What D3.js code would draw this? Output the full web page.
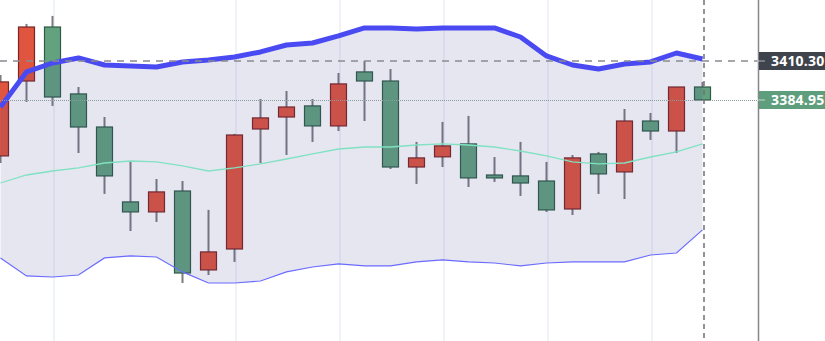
<!DOCTYPE html>
<html>
<head>
<meta charset="utf-8">
<script src="https://cdn.jsdelivr.net/npm/d3@7"></script>
<style>
  body { margin: 0; background: #fff; }
  svg { display: block; }
</style>
</head>
<body>
<div id="chart"></div>
<script>
// candles, oldest first: [open, high, low, close]
let opens  = [3348.6, 3397.3, 3432.4, 3388.9, 3367.4, 3318.7, 3312.2, 3325.8, 3274.5, 3288.1,
              3366.1, 3373.9, 3381.1, 3368.1, 3403.2, 3397.3, 3341.4, 3348.0, 3356.4, 3336.2,
              3335.6, 3332.3, 3314.1, 3349.9, 3338.2, 3371.3, 3364.8, 3393.4];
let highs  = [3401.2, 3434.4, 3439.6, 3393.4, 3373.9, 3344.7, 3333.6, 3332.3, 3313.5, 3362.9,
              3385.6, 3390.8, 3385.6, 3402.5, 3410.3, 3405.1, 3357.7, 3370.7, 3374.6, 3347.9,
              3357.7, 3344.7, 3349.2, 3351.2, 3379.1, 3376.5, 3393.4, 3396.7];
let lows   = [3344.0, 3383.7, 3381.1, 3350.5, 3323.9, 3299.8, 3305.7, 3266.0, 3271.2, 3279.7,
              3344.0, 3349.2, 3357.7, 3364.8, 3371.3, 3340.1, 3330.4, 3341.4, 3328.4, 3331.7,
              3322.6, 3312.2, 3310.2, 3323.9, 3320.6, 3359.0, 3350.5, 3384.95];
let closes = [3396.7, 3432.4, 3386.9, 3367.4, 3335.6, 3312.2, 3325.2, 3272.5, 3286.2, 3362.2,
              3373.3, 3380.4, 3368.1, 3395.4, 3397.3, 3341.4, 3347.3, 3355.1, 3334.3, 3334.3,
              3331.0, 3313.5, 3347.3, 3336.9, 3371.3, 3364.8, 3393.4, 3384.95];

// bollinger bands
let upperBand = [3380.4, 3403.2, 3409.0, 3412.3, 3407.7, 3407.1, 3406.4, 3409.7, 3411.0, 3412.9,
                 3416.2, 3420.7, 3422.0, 3426.6, 3431.8, 3431.8, 3431.1, 3431.8, 3431.8, 3431.8,
                 3425.9, 3413.6, 3407.7, 3405.1, 3408.4, 3409.7, 3415.5, 3411.6];
let middleBand = [3331.0, 3336.2, 3338.8, 3340.8, 3344.0, 3345.3, 3344.7, 3342.1, 3338.8, 3340.8,
                  3343.4, 3346.6, 3349.9, 3353.1, 3354.4, 3354.4, 3355.7, 3356.4, 3355.7, 3354.4,
                  3351.8, 3348.6, 3344.7, 3343.4, 3344.0, 3347.9, 3351.2, 3356.4];
let lowerBand = [3282.3, 3270.6, 3269.9, 3271.2, 3282.3, 3283.6, 3282.9, 3273.2, 3266.0, 3266.0,
                 3267.3, 3273.2, 3276.4, 3278.4, 3277.1, 3277.1, 3279.7, 3281.0, 3279.7, 3279.0,
                 3277.1, 3279.0, 3279.7, 3279.7, 3279.7, 3284.2, 3285.5, 3300.5];

// time grid ticks (candle index) and marked prices
let gridTicks = [2, 9, 13, 17, 21, 25];
let crossPrice = 3410.30;
let lastPrice = 3384.95;

let width = 825, height = 341;
let plotRight = 758;

let svg = d3.select("#chart").append("svg")
    .attr("width", width)
    .attr("height", height);

let x = d3.scaleLinear()
    .domain([0, 27])
    .range([0.5, 702.5]);

let y = d3.scaleLinear()
    .domain([3228.30, 3449.95])
    .range([height, 0]);

let idx = d3.range(opens.length);

// vertical grid
svg.append("g").selectAll("line")
    .data(gridTicks)
    .enter().append("line")
        .attr("x1", (d) => x(d) + 1.5)
        .attr("x2", (d) => x(d) + 1.5)
        .attr("y1", 0)
        .attr("y2", height)
        .attr("stroke", "#dfe8f1")
        .attr("stroke-width", 1);

// candles
let candles = svg.append("g");

candles.selectAll("line")
    .data(idx)
    .enter().append("line")
        .attr("x1", (i) => x(i))
        .attr("x2", (i) => x(i))
        .attr("y1", (i) => y(highs[i]))
        .attr("y2", (i) => y(lows[i]))
        .attr("stroke", "#7b7b80")
        .attr("stroke-width", 2);

candles.selectAll("rect")
    .data(idx)
    .enter().append("rect")
        .attr("x", (i) => x(i) - 8)
        .attr("width", 16)
        .attr("y", (i) => y(Math.max(opens[i], closes[i])))
        .attr("height", (i) => Math.max(2, Math.abs(y(opens[i]) - y(closes[i]))))
        .attr("fill", (i) => closes[i] >= opens[i] ? "#e0553f" : "#63a27f")
        .attr("stroke", (i) => closes[i] >= opens[i] ? "#7a2626" : "#2f5a45")
        .attr("stroke-width", 1.2);

// band fill drawn over the candles
let area = d3.area()
    .x((i) => x(i))
    .y0((i) => y(lowerBand[i]))
    .y1((i) => y(upperBand[i]));

svg.append("path")
    .datum(idx)
    .attr("d", area)
    .attr("fill", "rgba(60, 60, 150, 0.13)");

function bandLine(values) {
    return d3.line()
        .x((i) => x(i))
        .y((i) => y(values[i]))(idx);
}

svg.append("path")
    .attr("d", bandLine(middleBand))
    .attr("fill", "none")
    .attr("stroke", "#80e2c2")
    .attr("stroke-width", 1.3);

svg.append("path")
    .attr("d", bandLine(lowerBand))
    .attr("fill", "none")
    .attr("stroke", "#6b6bff")
    .attr("stroke-width", 1.2);

svg.append("path")
    .attr("d", bandLine(upperBand))
    .attr("fill", "none")
    .attr("stroke", "#4a4af2")
    .attr("stroke-width", 5)
    .attr("stroke-linejoin", "round");

// last price line
svg.append("line")
    .attr("x1", 0).attr("x2", plotRight)
    .attr("y1", Math.round(y(lastPrice)) + 0.5)
    .attr("y2", Math.round(y(lastPrice)) + 0.5)
    .attr("stroke", "#8a9a9c")
    .attr("stroke-width", 1)
    .attr("stroke-dasharray", "1,1");

// crosshair
svg.append("line")
    .attr("x1", 0).attr("x2", plotRight)
    .attr("y1", y(crossPrice)).attr("y2", y(crossPrice))
    .attr("stroke", "#8a8a90")
    .attr("stroke-width", 1.5)
    .attr("stroke-dasharray", "7,6");

svg.append("line")
    .attr("x1", x(27) + 1.5).attr("x2", x(27) + 1.5)
    .attr("y1", 0).attr("y2", height)
    .attr("stroke", "#6e7078")
    .attr("stroke-width", 1.5)
    .attr("stroke-dasharray", "5,4");

// price axis
svg.append("line")
    .attr("x1", plotRight + 0.5).attr("x2", plotRight + 0.5)
    .attr("y1", 0).attr("y2", height)
    .attr("stroke", "#85858a")
    .attr("stroke-width", 1.5);

let labels = [
    {price: crossPrice, fill: "#3f434c"},
    {price: lastPrice, fill: "#5e9e7c"}
];

let tags = svg.append("g").selectAll("g")
    .data(labels)
    .enter().append("g")
        .attr("transform", (d) => "translate(" + (plotRight + 1) + "," + y(d.price) + ")");

tags.append("rect")
    .attr("x", 0)
    .attr("y", -9)
    .attr("width", width - plotRight)
    .attr("height", 18)
    .attr("fill", (d) => d.fill);

tags.append("line")
    .attr("x1", -2).attr("x2", 6)
    .attr("y1", 0).attr("y2", 0)
    .attr("stroke", "rgba(255,255,255,0.6)")
    .attr("stroke-width", 1);

tags.append("text")
    .attr("x", 12)
    .attr("y", 5)
    .attr("fill", "#fff")
    .attr("font-family", "'Open Sans', sans-serif")
    .attr("font-weight", 700)
    .attr("font-size", "14px")
    .attr("letter-spacing", "0.2px")
    .text((d) => d.price.toFixed(2));
</script>
</body>
</html>
